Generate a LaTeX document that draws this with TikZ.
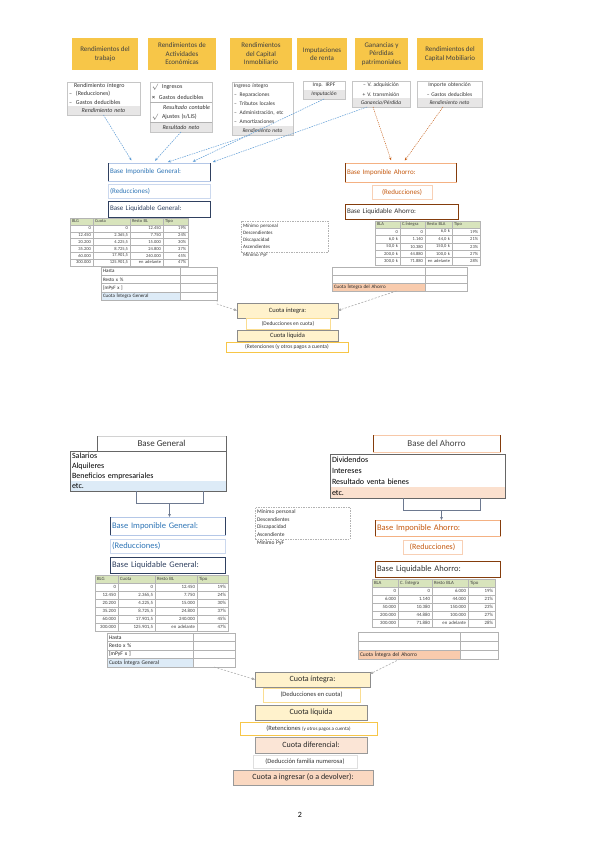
\documentclass[tikz,border=0pt]{standalone}
\usepackage{fontspec}
\setmainfont{Carlito}
\usetikzlibrary{arrows.meta,positioning,calc}

\definecolor{hdrY}{RGB}{247,198,72}
\definecolor{blueT}{RGB}{46,117,182}
\definecolor{blueL}{RGB}{180,199,231}
\definecolor{navy}{RGB}{47,64,96}
\definecolor{orgT}{RGB}{197,90,17}
\definecolor{orgL}{RGB}{244,177,131}
\definecolor{brownD}{RGB}{132,60,12}
\definecolor{tblG}{RGB}{216,228,188}
\definecolor{gridG}{RGB}{180,180,180}
\definecolor{rowBlue}{RGB}{221,235,247}
\definecolor{rowPeach}{RGB}{248,203,173}
\definecolor{rowGray}{RGB}{231,230,230}
\definecolor{cuotaY}{RGB}{255,242,204}
\definecolor{cuotaP}{RGB}{251,229,214}
\definecolor{arrB}{RGB}{91,155,213}

\newcommand{\fs}[2]{\fontsize{#1}{#2}\selectfont}
% box by corners (px): name, x1, y1, x2, y2, text
\newcommand{\rbox}[7][]{%
  \pgfmathsetmacro\bxw{#5-#3}\pgfmathsetmacro\bxh{#6-#4}%
  \node[anchor=north west, inner sep=0pt, outer sep=0pt, minimum width=\bxw pt, minimum height=\bxh pt, #1] (#2) at (#3,#4) {#7};}
\newcommand{\lrow}[7][]{%
  \pgfmathsetmacro\bxw{#5-#3-4}\pgfmathsetmacro\bxh{#6-#4}%
  \node[anchor=north west, inner xsep=2pt, inner ysep=0pt, outer sep=0pt, text width=\bxw pt, minimum height=\bxh pt, align=left, #1] (#2) at (#3,#4) {#7};}

\tikzset{
  sides/.style={append after command={(\tikzlastnode.north west) edge[draw=#1, line width=0.9pt] (\tikzlastnode.south west) (\tikzlastnode.north east) edge[draw=#1, line width=0.9pt] (\tikzlastnode.south east)}},
  hdr/.style={fill=hdrY, text=black!75, font=\fs{7}{8.5}, align=center},
  subbox/.style={draw=gray!45, line width=0.5pt},
  subrow/.style={font=\fs{6}{7}, text=black!80},
  res/.style={fill=rowGray, font=\fs{6}{7}\itshape, text=black!80, align=center},
  bimpG/.style={draw=blueL, line width=0.5pt, text=blueT, font=\fs{7}{8}, sides=navy},
  bredG/.style={draw=blueL!70, line width=0.5pt, text=blueT, font=\fs{7}{8}},
  bliqG/.style={draw=navy, line width=1pt, text=navy, font=\fs{7}{8}},
  bimpA/.style={draw=orgL, line width=0.5pt, text=orgT, font=\fs{7}{8}, sides=brownD},
  bredA/.style={draw=orgL!60, line width=0.5pt, text=orgT, font=\fs{7}{8}, align=center},
  bliqA/.style={draw=brownD, line width=1pt, text=black!80, font=\fs{7}{8}},
  tcell/.style={draw=gridG, line width=0.3pt, font=\fs{4.5}{5}, text=black!75, align=right},
  thd/.style={tcell, fill=tblG, align=left},
  scell/.style={draw=gray!60, line width=0.4pt, font=\fs{5}{6}, text=black!85},
  dbox/.style={draw=gray!60, dashed, dash pattern=on 1.5pt off 1pt, line width=0.4pt, font=\fs{5}{7}, text=black!80},
  cuo/.style={fill=cuotaY, draw=black!45, line width=0.5pt, font=\fs{6.5}{7.5}, text=black!85},
  ded/.style={fill=white, draw=hdrY!60, line width=0.4pt, font=\fs{5.5}{6.5}, text=black!80},
  cdif/.style={fill=cuotaP, draw=black!40, line width=0.5pt, font=\fs{8}{9}, text=black!85},
  cing/.style={fill=rowPeach!75, draw=black!40, line width=0.5pt, font=\fs{8}{9}, text=black!85},
  bgen/.style={draw=gray!35, line width=0.5pt, font=\fs{9}{10}, text=black!80, sides=black!60},
  bahor/.style={draw=orgL!70, line width=0.5pt, font=\fs{9}{10}, text=black!75, sides=brownD},
  lstbox/.style={draw=black!60, line width=0.6pt},
  lstrow/.style={font=\fs{8}{9}, text=black},
  barr/.style={-{Stealth[length=3pt,width=2.5pt]}, draw=arrB, dash pattern=on 1.5pt off 1pt, line width=0.5pt, shorten >=3pt},
  oarr/.style={-{Stealth[length=3pt,width=2.5pt]}, draw=orgT, dash pattern=on 1pt off 1pt, line width=0.5pt, shorten >=3pt},
  garr/.style={-{Triangle[length=3pt,width=2.5pt]}, draw=gray!70, dash pattern=on 2pt off 1.5pt, line width=0.5pt},
  brk/.style={draw=navy!70, line width=0.6pt},
  brkarr/.style={brk, -{Triangle[length=3pt,width=2.5pt]}},
}

\begin{document}
\begin{tikzpicture}[x=1pt, y=-1pt]
\fill[white] (0,0) rectangle (599,848);
\path[use as bounding box] (0,0) rectangle (599,848);

% ---------- upper half: sources of income ----------
\rbox[hdr]{hTrab}{72}{38}{138}{70}{Rendimientos del\\trabajo}
\rbox[hdr]{hAct}{148}{38}{216}{70}{Rendimientos de\\Actividades\\Económicas}
\rbox[hdr]{hInm}{230}{38}{292}{70}{Rendimientos\\del Capital\\Inmobiliario}
\rbox[hdr]{hImp}{297}{38}{347}{70}{Imputaciones\\de renta}
\rbox[hdr]{hGan}{355}{38}{408}{70}{Ganancias y\\Pérdidas\\patrimoniales}
\rbox[hdr]{hMob}{417}{38}{483}{70}{Rendimientos del\\Capital Mobiliario}

\lrow[subrow]{sTrab1}{67}{82}{140}{90}{\hspace*{5pt}Rendimiento íntegro}
\lrow[subrow]{sTrab2}{67}{90}{140}{98}{–\hspace{4pt}(Reducciones)}
\lrow[subrow]{sTrab3}{67}{98}{140}{106}{–\hspace{4pt}Gastos deducibles}
\lrow[res]{sTrab4}{67}{106}{140}{115}{Rendimiento neto}
\rbox[subbox]{sTrab}{67}{82}{140}{115}{}

\lrow[subrow]{sAct1}{150}{82}{212}{92}{$\surd$\hspace{4pt}Ingresos}
\lrow[subrow]{sAct2}{150}{92}{212}{102}{\textbf{×}\hspace{4pt}Gastos deducibles}
\lrow[subrow, align=right, font=\fs{6}{7}\itshape]{sAct3}{150}{102}{212}{112}{Resultado contable}
\lrow[subrow]{sAct4}{150}{112}{212}{122}{$\surd$\hspace{4pt}Ajustes (s/LIS)}
\lrow[res]{sAct5}{150}{122}{212}{132}{Resultado neto}
\rbox[subbox]{sAct}{150}{82}{212}{132}{}
\draw[gray!60, line width=0.4pt] (sAct2.south west) -- (sAct2.south east);
\draw[gray!60, line width=0.4pt] (sAct4.south west) -- (sAct4.south east);

\lrow[subrow, font=\fs{5.5}{6.5}]{sInm1}{232}{82}{293}{90.8}{Ingreso íntegro}
\lrow[subrow, font=\fs{5.5}{6.5}]{sInm2}{232}{90.8}{293}{99.6}{–\hspace{3pt}Reparaciones}
\lrow[subrow, font=\fs{5.5}{6.5}]{sInm3}{232}{99.6}{293}{108.4}{–\hspace{3pt}Tributos locales}
\lrow[subrow, font=\fs{5.5}{6.5}]{sInm4}{232}{108.4}{293}{117.2}{–\hspace{3pt}Administración, etc}
\lrow[subrow, font=\fs{5.5}{6.5}]{sInm5}{232}{117.2}{293}{126}{–\hspace{3pt}Amortizaciones}
\lrow[res, font=\fs{5.5}{6.5}\itshape]{sInm6}{232}{126}{293}{135}{Rendimiento neto}
\rbox[subbox]{sInm}{232}{82}{293}{135}{}

\lrow[subrow, font=\fs{5.5}{6.5}, align=center]{sImp1}{303}{81}{345}{90}{Imp. IRPF}
\lrow[res, font=\fs{5.5}{6.5}\itshape]{sImp2}{303}{90}{345}{99}{Imputación}
\rbox[subbox]{sImp}{303}{81}{345}{99}{}

\lrow[subrow, font=\fs{5.5}{6.5}, align=center]{sGan1}{352}{81}{410}{90}{– V. adquisición}
\lrow[subrow, font=\fs{5.5}{6.5}, align=center]{sGan2}{352}{90}{410}{98.5}{+ V. transmisión}
\lrow[res, font=\fs{5.5}{6.5}\itshape]{sGan3}{352}{98.5}{410}{107}{Ganancia/Pérdida}
\rbox[subbox]{sGan}{352}{81}{410}{107}{}

\lrow[subrow, font=\fs{5.5}{6.5}, align=center]{sMob1}{417}{81}{482}{90}{Importe obtención}
\lrow[subrow, font=\fs{5.5}{6.5}, align=center]{sMob2}{417}{90}{482}{98.5}{– Gastos deducibles}
\lrow[res, font=\fs{5.5}{6.5}\itshape]{sMob3}{417}{98.5}{482}{107}{Rendimiento neto}
\rbox[subbox]{sMob}{417}{81}{482}{107}{}

% general base (upper)
\lrow[bimpG]{bigT}{108}{163}{210}{181}{Base Imponible General:}
\lrow[bredG]{redT}{108}{184}{210}{198}{(Reducciones)}
\lrow[bliqG]{blgT}{108}{201}{210}{217}{Base Liquidable General:}

\foreach \hd/\xa/\xb [count=\c] in {BLG/70/93, Cuota/93/130, Resto BL/130/163, Tipo/163/188}
  \lrow[thd]{tgT\c}{\xa}{218}{\xb}{225}{\hd};
\foreach \va/\vb/\vc/\vd [count=\k] in {0/0/12.450/19\%, 12.450/{2.365,5}/7.750/24\%, 20.200/{4.225,5}/15.000/30\%, 35.200/{8.725,5}/24.800/37\%, 60.000/{17.901,5}/240.000/45\%, 300.000/{125.901,5}/en adelante/47\%} {
  \pgfmathsetmacro\ya{225+(\k-1)*6.8}\pgfmathsetmacro\yb{\ya+6.8}
  \lrow[tcell]{tgT\k a}{70}{\ya}{93}{\yb}{\va}
  \lrow[tcell]{tgT\k b}{93}{\ya}{130}{\yb}{\vb}
  \lrow[tcell]{tgT\k c}{130}{\ya}{163}{\yb}{\vc}
  \lrow[tcell]{tgT\k d}{163}{\ya}{188}{\yb}{\vd}
}

\lrow[scell]{sgT1a}{101}{267}{180}{275.3}{Hasta}
\lrow[scell]{sgT1b}{180}{267}{217}{275.3}{}
\lrow[scell]{sgT2a}{101}{275.3}{180}{283.5}{Resto x \%}
\lrow[scell]{sgT2b}{180}{275.3}{217}{283.5}{}
\lrow[scell]{sgT3a}{101}{283.5}{180}{291.8}{[mPyF x ]}
\lrow[scell]{sgT3b}{180}{283.5}{217}{291.8}{}
\lrow[scell, fill=rowBlue]{sgT4a}{101}{291.8}{180}{300}{Cuota Íntegra General}
\lrow[scell]{sgT4b}{180}{291.8}{217}{300}{}

\lrow[dbox]{minT}{241}{221}{328}{252}{Mínimo personal\\Descendientes\\Discapacidad\\Ascendientes}
\lrow[font=\fs{5}{6}, text=black!80]{pyfT}{241}{252}{300}{259}{Mínimo PyF}

% savings base (upper)
\lrow[bimpA]{biaT}{345}{163}{456}{182}{Base Imponible Ahorro:}
\lrow[bredA]{rdaT}{372}{185}{432}{199}{(Reducciones)}
\lrow[bliqA]{blaT}{345}{204}{458}{219}{Base Liquidable Ahorro:}

\foreach \hd/\xa/\xb [count=\c] in {BLA/375/400, C.Íntegra/400/425, Resto BLA/425/452, Tipo/452/480}
  \lrow[thd]{taT\c}{\xa}{221}{\xb}{228}{\hd};
\foreach \va/\vb/\vc/\vd [count=\k] in {0/0/{6,0 k}/19\%, {6,0 k}/1.140/{44,0 k}/21\%, {50,0 k}/10.380/{150,0 k}/23\%, {200,0 k}/44.880/{100,0 k}/27\%, {300,0 k}/71.880/en adelante/28\%} {
  \pgfmathsetmacro\ya{228+(\k-1)*7.4}\pgfmathsetmacro\yb{\ya+7.4}
  \lrow[tcell]{taT\k a}{375}{\ya}{400}{\yb}{\va}
  \lrow[tcell]{taT\k b}{400}{\ya}{425}{\yb}{\vb}
  \lrow[tcell]{taT\k c}{425}{\ya}{452}{\yb}{\vc}
  \lrow[tcell]{taT\k d}{452}{\ya}{480}{\yb}{\vd}
}

\lrow[scell]{saT1a}{332}{267}{425}{275}{}
\lrow[scell]{saT1b}{425}{267}{467}{275}{}
\lrow[scell]{saT2a}{332}{275}{425}{283}{}
\lrow[scell]{saT2b}{425}{275}{467}{283}{}
\lrow[scell, fill=rowPeach]{saT3a}{332}{283}{425}{291}{Cuota Íntegra del Ahorro}
\lrow[scell]{saT3b}{425}{283}{467}{291}{}

% tax due (upper)
\rbox[cuo]{ci}{237}{303}{338}{318}{Cuota íntegra:}
\rbox[ded]{dc}{246}{318}{330}{329}{(Deducciones en cuota)}
\rbox[cuo]{cl}{237}{330}{338}{341}{Cuota líquida}
\rbox[ded, draw=hdrY]{rt}{226}{342}{348}{352}{(Retenciones (y otros pagos a cuenta)}

\draw[barr] (sTrab.south) -- ([xshift=25pt]bigT.north west);
\draw[barr] (sAct.south) -- ([xshift=45pt]bigT.north west);
\draw[barr] ([xshift=18pt]sInm.south west) -- ([xshift=57pt]bigT.north west);
\draw[barr] (sImp.south) -- ([xshift=82pt]bigT.north west);
\draw[barr] ([xshift=15pt]sGan.south west) -- (bigT.north east);
\draw[oarr] ([xshift=21pt]sGan.south west) -- ([xshift=47pt]biaT.north west);
\draw[oarr] ([xshift=26pt]sMob.south west) -- ([xshift=58pt]biaT.north west);
\draw[garr] (sgT4b.south east) -- ++(0,4) -- (ci.west);
\draw[garr] ([xshift=18pt]saT3a.south) -- (ci.east);

% ---------- lower half ----------
\rbox[bgen]{bGen}{97}{436}{226}{451}{Base General}
\lrow[lstrow]{lstG1}{70}{451}{226}{461}{Salarios}
\lrow[lstrow]{lstG2}{70}{461}{226}{471}{Alquileres}
\lrow[lstrow]{lstG3}{70}{471}{226}{481}{Beneficios empresariales}
\lrow[lstrow, fill=rowBlue]{lstG4}{70}{481}{226}{491}{etc.}
\rbox[lstbox]{lstG}{70}{451}{226}{491}{}

\rbox[bahor]{bAho}{373}{435}{500}{452}{Base del Ahorro}
\lrow[lstrow]{lstA1}{330}{454}{505}{465}{Dividendos}
\lrow[lstrow]{lstA2}{330}{465}{505}{476}{Intereses}
\lrow[lstrow]{lstA3}{330}{476}{505}{487}{Resultado venta bienes}
\lrow[lstrow, fill=rowPeach!60]{lstA4}{330}{487}{505}{498}{etc.}
\rbox[lstbox]{lstA}{330}{454}{505}{498}{}

% general base (lower)
\lrow[bimpG, font=\fs{8.5}{10}]{bigB}{110}{517}{225}{535}{Base Imponible General:}
\lrow[bredG, font=\fs{8.5}{10}]{redB}{110}{539}{225}{553}{(Reducciones)}
\lrow[bliqG, font=\fs{8.5}{10}]{blgB}{110}{557}{225}{573}{Base Liquidable General:}

\draw[brk] ([xshift=66pt]lstG4.south west) -- ++(0,12) -| ([xshift=133pt]lstG4.south west);
\coordinate (brkG) at ([xshift=99.5pt,yshift=-12pt]lstG4.south west);
\draw[brkarr] (brkG) -- (brkG |- bigB.north);

\foreach \hd/\xa/\xb [count=\c] in {BLG/95/118, Cuota/118/155, Resto BL/155/197, Tipo/197/228}
  \lrow[thd, font=\fs{4.8}{5.5}]{tgB\c}{\xa}{575}{\xb}{583}{\hd};
\foreach \va/\vb/\vc/\vd [count=\k] in {0/0/12.450/19\%, 12.450/{2.365,5}/7.750/24\%, 20.200/{4.225,5}/15.000/30\%, 35.200/{8.725,5}/24.800/37\%, 60.000/{17.901,5}/240.000/45\%, 300.000/{125.901,5}/en adelante/47\%} {
  \pgfmathsetmacro\ya{583+(\k-1)*8}\pgfmathsetmacro\yb{\ya+8}
  \lrow[tcell, font=\fs{4.8}{5.5}]{tgB\k a}{95}{\ya}{118}{\yb}{\va}
  \lrow[tcell, font=\fs{4.8}{5.5}]{tgB\k b}{118}{\ya}{155}{\yb}{\vb}
  \lrow[tcell, font=\fs{4.8}{5.5}]{tgB\k c}{155}{\ya}{197}{\yb}{\vc}
  \lrow[tcell, font=\fs{4.8}{5.5}]{tgB\k d}{197}{\ya}{228}{\yb}{\vd}
}

\lrow[scell, font=\fs{5.5}{6.5}]{sgB1a}{107}{633}{193}{641.5}{Hasta}
\lrow[scell]{sgB1b}{193}{633}{235}{641.5}{}
\lrow[scell, font=\fs{5.5}{6.5}]{sgB2a}{107}{641.5}{193}{650}{Resto x \%}
\lrow[scell]{sgB2b}{193}{641.5}{235}{650}{}
\lrow[scell, font=\fs{5.5}{6.5}]{sgB3a}{107}{650}{193}{658.5}{[mPyF x ]}
\lrow[scell]{sgB3b}{193}{650}{235}{658.5}{}
\lrow[scell, font=\fs{5.5}{6.5}, fill=rowBlue]{sgB4a}{107}{658.5}{193}{667}{Cuota Íntegra General}
\lrow[scell]{sgB4b}{193}{658.5}{235}{667}{}

\lrow[dbox, font=\fs{5.5}{7.6}]{minB}{255}{507}{350}{539}{Mínimo personal\\Descendientes\\Discapacidad\\Ascendiente}
\lrow[font=\fs{5.5}{6.5}, text=black!85]{pyfB}{255}{539}{320}{548}{Mínimo PyF}

% savings base (lower)
\lrow[bimpA, font=\fs{8.5}{10}]{biaB}{375}{520}{500}{536}{Base Imponible Ahorro:}
\lrow[bredA, font=\fs{8}{9}]{rdaB}{403}{540}{462}{554}{(Reducciones)}
\lrow[bliqA, font=\fs{8.5}{10}]{blaB}{375}{561}{500}{577}{Base Liquidable Ahorro:}

\draw[brk] ([xshift=73pt]lstA4.south west) -- ++(0,12) -| ([xshift=150pt]lstA4.south west);
\coordinate (brkA) at ([xshift=111.5pt,yshift=-12pt]lstA4.south west);
\draw[brkarr] (brkA) -- (brkA |- biaB.north);

\foreach \hd/\xa/\xb [count=\c] in {BLA/372/398, C. Íntegra/398/432, Resto BLA/432/468, Tipo/468/495}
  \lrow[thd, font=\fs{4.8}{5.5}]{taB\c}{\xa}{579}{\xb}{587}{\hd};
\foreach \va/\vb/\vc/\vd [count=\k] in {0/0/6.000/19\%, 6.000/1.140/44.000/21\%, 50.000/10.380/150.000/23\%, 200.000/44.880/100.000/27\%, 300.000/71.880/en adelante/28\%} {
  \pgfmathsetmacro\ya{587+(\k-1)*8}\pgfmathsetmacro\yb{\ya+8}
  \lrow[tcell, font=\fs{4.8}{5.5}]{taB\k a}{372}{\ya}{398}{\yb}{\va}
  \lrow[tcell, font=\fs{4.8}{5.5}]{taB\k b}{398}{\ya}{432}{\yb}{\vb}
  \lrow[tcell, font=\fs{4.8}{5.5}]{taB\k c}{432}{\ya}{468}{\yb}{\vc}
  \lrow[tcell, font=\fs{4.8}{5.5}]{taB\k d}{468}{\ya}{495}{\yb}{\vd}
}

\lrow[scell]{saB1a}{358}{632}{460}{641}{}
\lrow[scell]{saB1b}{460}{632}{498}{641}{}
\lrow[scell]{saB2a}{358}{641}{460}{650}{}
\lrow[scell]{saB2b}{460}{641}{498}{650}{}
\lrow[scell, font=\fs{5.5}{6.5}, fill=rowPeach]{saB3a}{358}{650}{460}{659}{Cuota Íntegra del Ahorro}
\lrow[scell]{saB3b}{460}{650}{498}{659}{}

% tax due (lower)
\rbox[cuo, font=\fs{8}{9}]{ci2}{255}{672}{370}{687}{Cuota íntegra:}
\rbox[ded, font=\fs{6.5}{7.5}]{dc2}{263}{688}{360}{702}{(Deducciones en cuota)}
\rbox[cuo, font=\fs{8}{9}]{cl2}{255}{705}{367}{720}{Cuota líquida}
\rbox[ded, draw=hdrY, font=\fs{6.5}{7.5}]{rt2}{240}{722}{377}{735}{(Retenciones {\fs{5}{6}(y otros pagos a cuenta)}}
\rbox[cdif]{cd2}{255}{737}{367}{753}{Cuota diferencial:}
\rbox[ded, draw=gray!25, font=\fs{6.5}{7.5}]{df2}{253}{755}{357}{768}{(Deducción familia numerosa)}
\rbox[cing]{ca2}{233}{770}{373}{785}{Cuota a ingresar (o a devolver):}

\draw[garr] (sgB4b.south) -- (ci2.west);
\draw[garr] ([xshift=-9pt]saB3a.south) -- ([yshift=-2pt]ci2.north east);

\node[font=\fs{8}{9}] (pgNo) at (300,815) {2};

\end{tikzpicture}
\end{document}
